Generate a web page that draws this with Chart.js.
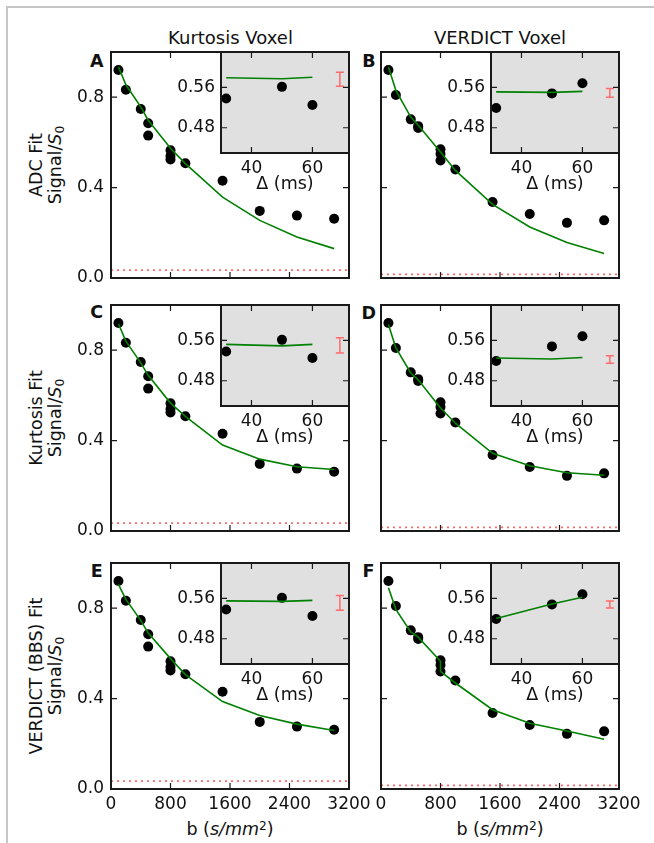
<!DOCTYPE html>
<html>
<head>
<meta charset="utf-8">
<title>Signal decay fits</title>
<script src="https://cdn.jsdelivr.net/npm/chart.js@4.4.1/dist/chart.umd.min.js"></script>
<style>
  body { margin: 0; background: #fff; }
  #fig { position: relative; width: 654px; height: 843px; overflow: hidden; font-family: "DejaVu Sans", sans-serif; color: #111; }
  #fig canvas { position: absolute; }
  .border { position: absolute; left: 6px; top: 6px; width: 700px; height: 900px; border-top: 2px solid #c6c6c6; border-left: 2px solid #c6c6c6; }
  .lbl { position: absolute; white-space: nowrap; transform: translate(-50%, -50%); font-size: 17.5px; line-height: 1; }
  .title { font-size: 18px; }
  .letter { font-weight: bold; }
  .ylab { transform: translate(-50%, -50%) rotate(-90deg); text-align: center; line-height: 18.5px; }
  .m { font-style: italic; }
  .sub { font-size: 0.7em; position: relative; top: 0.25em; }
  .sup { font-size: 0.7em; position: relative; top: -0.45em; }
</style>
</head>
<body>
<div id="fig">
  <div class="border"></div>

  <div class="lbl title" style="left:230.5px; top:37.5px">Kurtosis Voxel</div>
  <div class="lbl title" style="left:500px; top:37.5px">VERDICT Voxel</div>

  <div class="lbl letter" style="left:96.7px; top:62.3px">A</div>
  <div class="lbl letter" style="left:368.8px; top:62.3px">B</div>
  <div class="lbl letter" style="left:96.7px; top:312.5px">C</div>
  <div class="lbl letter" style="left:368.8px; top:313.5px">D</div>
  <div class="lbl letter" style="left:96.7px; top:572px">E</div>
  <div class="lbl letter" style="left:368.5px; top:571.5px">F</div>

  <div class="lbl ylab" style="left:46.4px; top:165px">ADC Fit<br>Signal/<span class="m">S</span><span class="sub">0</span></div>
  <div class="lbl ylab" style="left:46.4px; top:418px">Kurtosis Fit<br>Signal/<span class="m">S</span><span class="sub">0</span></div>
  <div class="lbl ylab" style="left:46.4px; top:676px">VERDICT (BBS) Fit<br>Signal/<span class="m">S</span><span class="sub">0</span></div>

  <div class="lbl" style="left:230px; top:830px">b (<span class="m">s/mm</span><span class="sup">2</span>)</div>
  <div class="lbl" style="left:500px; top:830px">b (<span class="m">s/mm</span><span class="sup">2</span>)</div>
</div>

<script>
// b-values (s/mm^2), in the order they are plotted
const bValues = [100, 200, 400, 500, 500, 800, 800, 800, 1000, 1500, 2000, 2500, 3000];

// measured signal of each voxel
const kurtosisVoxel = [0.92, 0.833, 0.748, 0.685, 0.63, 0.565, 0.54, 0.524, 0.508, 0.43, 0.297, 0.276, 0.262];
const verdictVoxel = [0.92, 0.81, 0.702, 0.672, 0.664, 0.57, 0.549, 0.52, 0.48, 0.336, 0.283, 0.244, 0.255];

// model fits at the same b-values
const adcFitK = [0.935, 0.855, 0.757, 0.698, 0.698, 0.574, 0.574, 0.574, 0.506, 0.358, 0.255, 0.181, 0.130];
const adcFitV = [0.934, 0.83, 0.712, 0.676, 0.676, 0.558, 0.558, 0.558, 0.476, 0.326, 0.226, 0.157, 0.108];
const kurtFitK = [0.917, 0.84, 0.744, 0.689, 0.689, 0.566, 0.566, 0.566, 0.507, 0.380, 0.318, 0.284, 0.272];
const kurtFitV = [0.914, 0.81, 0.699, 0.669, 0.669, 0.544, 0.544, 0.544, 0.477, 0.344, 0.289, 0.258, 0.247];
const verdictFitK = [0.905, 0.839, 0.746, 0.69, 0.69, 0.577, 0.577, 0.577, 0.506, 0.387, 0.325, 0.287, 0.259];
const verdictFitV = [0.89, 0.795, 0.695, 0.672, 0.672, 0.565, 0.548, 0.52, 0.469, 0.351, 0.291, 0.257, 0.22];

// noise floor (dotted red line)
const noiseK = 0.035;
const noiseV = 0.016;

// insets: signal against diffusion time
const deltaValues = [31.7, 50, 60];
const insetK = [0.538, 0.561, 0.525];
const insetV = [0.519, 0.548, 0.568];
const insetAdcK = [0.579, 0.577, 0.580];
const insetAdcV = [0.551, 0.550, 0.552];
const insetKurtK = [0.552, 0.549, 0.552];
const insetKurtV = [0.525, 0.523, 0.526];
const insetVerdictK = [0.555, 0.554, 0.556];
const insetVerdictV = [0.520, 0.549, 0.562];

// error bars in the insets: [centre, half length], all at the same delta
const errDelta = 69;
const errA = [0.576, 0.014];
const errB = [0.549, 0.0085];
const errC = [0.55, 0.015];
const errD = [0.522, 0.0075];
const errE = [0.551, 0.0145];
const errF = [0.548, 0.007];

// axes
const bRange = [0, 3200];
const sigRange = [0, 1.0];
const bTicks = [0, 800, 1600, 2400, 3200];
const sigTicks = [0, 0.4, 0.8];
const deltaRange = [30, 72];
const insetRange = [0.43, 0.63];
const deltaTicks = [40, 60];
const insetTicks = [0.48, 0.56];

// layout
const colLeft = [111, 381];
const rowTop = [52, 305, 563];
const mainW = 238, mainH = 226;
const insetDx = 110, insetH = 101;
const PAD = { l: 60, t: 20, r: 34, b: 40 };
const IPAD = { l: 52, t: 20, r: 34, b: 42 };

const tickFont = { family: 'DejaVu Sans', size: 17 };
const titleFont = { family: 'DejaVu Sans', size: 17.5 };
const green = '#008000';
const red = '#ff6b6b';

const panels = [
    { col: 0, row: 0, data: kurtosisVoxel, fit: adcFitK, noise: noiseK, inset: insetK, insetFit: insetAdcK, err: errA },
    { col: 1, row: 0, data: verdictVoxel, fit: adcFitV, noise: noiseV, inset: insetV, insetFit: insetAdcV, err: errB },
    { col: 0, row: 1, data: kurtosisVoxel, fit: kurtFitK, noise: noiseK, inset: insetK, insetFit: insetKurtK, err: errC },
    { col: 1, row: 1, data: verdictVoxel, fit: kurtFitV, noise: noiseV, inset: insetV, insetFit: insetKurtV, err: errD },
    { col: 0, row: 2, data: kurtosisVoxel, fit: verdictFitK, noise: noiseK, inset: insetK, insetFit: insetVerdictK, err: errE },
    { col: 1, row: 2, data: verdictVoxel, fit: verdictFitV, noise: noiseV, inset: insetV, insetFit: insetVerdictV, err: errF }
];

// frame, inward ticks on all sides, inset background and error bar
const axesBox = {
    id: 'axesBox',
    beforeDatasetsDraw(chart, args, opts) {
        if (!opts.fill) return;
        const { ctx, chartArea: a } = chart;
        ctx.save();
        ctx.fillStyle = opts.fill;
        ctx.fillRect(a.left, a.top, a.right - a.left, a.bottom - a.top);
        ctx.restore();
    },
    afterDatasetsDraw(chart, args, opts) {
        const { ctx, chartArea: a } = chart;
        const x = chart.scales.x, y = chart.scales.y;
        ctx.save();
        if (opts.err) {
            const px = x.getPixelForValue(errDelta);
            const y0 = y.getPixelForValue(opts.err[0] - opts.err[1]);
            const y1 = y.getPixelForValue(opts.err[0] + opts.err[1]);
            ctx.strokeStyle = red;
            ctx.lineWidth = 1.5;
            ctx.beginPath();
            ctx.moveTo(px, y0); ctx.lineTo(px, y1);
            ctx.moveTo(px - 4, y0); ctx.lineTo(px + 4, y0);
            ctx.moveTo(px - 4, y1); ctx.lineTo(px + 4, y1);
            ctx.stroke();
        }
        ctx.strokeStyle = '#1a1a1a';
        ctx.lineWidth = 1.2;
        ctx.beginPath();
        x.ticks.forEach(t => {
            const p = x.getPixelForValue(t.value);
            ctx.moveTo(p, a.bottom); ctx.lineTo(p, a.bottom - 6);
            ctx.moveTo(p, a.top); ctx.lineTo(p, a.top + 6);
        });
        y.ticks.forEach(t => {
            const p = y.getPixelForValue(t.value);
            ctx.moveTo(a.left, p); ctx.lineTo(a.left + 6, p);
            ctx.moveTo(a.right, p); ctx.lineTo(a.right - 6, p);
        });
        ctx.stroke();
        ctx.lineWidth = 2;
        ctx.strokeRect(a.left, a.top, a.right - a.left, a.bottom - a.top);
        ctx.restore();
    }
};

const fig = document.getElementById('fig');

function addCanvas(left, top, w, h) {
    const cv = document.createElement('canvas');
    cv.width = w;
    cv.height = h;
    cv.style.width = w + 'px';
    cv.style.height = h + 'px';
    cv.style.left = left + 'px';
    cv.style.top = top + 'px';
    fig.appendChild(cv);
    return cv;
}

// put the chart area exactly where it belongs
function align(chart, cv, left, top) {
    const a = chart.chartArea;
    cv.style.left = (left - a.left) + 'px';
    cv.style.top = (top - a.top) + 'px';
}

function linearAxis(range, ticks, opts) {
    return {
        type: 'linear',
        min: range[0],
        max: range[1],
        grid: { display: false, drawTicks: false },
        border: { display: false },
        afterBuildTicks: s => { s.ticks = ticks.map(v => ({ value: v })); },
        afterFit: opts.fit,
        title: opts.title || { display: false },
        ticks: {
            display: opts.show,
            padding: opts.padding,
            font: tickFont,
            color: '#111',
            maxRotation: 0,
            autoSkip: false,
            callback: opts.format
        }
    };
}

function baseOptions(pad, box) {
    return {
        responsive: false,
        animation: false,
        events: [],
        devicePixelRatio: 1,
        layout: { padding: { left: 0, top: pad.t, right: pad.r, bottom: 0 } },
        plugins: { legend: { display: false }, tooltip: { enabled: false }, axesBox: box }
    };
}

function mainChart(p) {
    const left = colLeft[p.col], top = rowTop[p.row];
    const cv = addCanvas(left - PAD.l, top - PAD.t, PAD.l + mainW + PAD.r, PAD.t + mainH + PAD.b);
    const options = baseOptions(PAD, {});
    options.scales = {
        x: linearAxis(bRange, bTicks, {
            show: p.row === 2, padding: 5, format: v => String(v),
            fit: s => { s.height = PAD.b; }
        }),
        y: linearAxis(sigRange, sigTicks, {
            show: p.col === 0, padding: 7, format: v => v.toFixed(1),
            fit: s => { s.width = PAD.l; }
        })
    };
    const chart = new Chart(cv, {
        type: 'scatter',
        data: {
            datasets: [
                { data: bValues.map((b, i) => ({ x: b, y: p.fit[i] })), showLine: true, borderColor: green, borderWidth: 1.6, pointRadius: 0, order: 0 },
                { data: bValues.map((b, i) => ({ x: b, y: p.data[i] })), backgroundColor: '#000', borderWidth: 0, pointRadius: 5, order: 1 },
                { data: bRange.map(b => ({ x: b, y: p.noise })), showLine: true, borderColor: red, borderWidth: 1.6, borderDash: [2, 4], pointRadius: 0, order: 2 }
            ]
        },
        options: options,
        plugins: [axesBox]
    });
    align(chart, cv, left, top);
}

function insetChart(p) {
    const left = colLeft[p.col] + insetDx, top = rowTop[p.row];
    const w = mainW - insetDx;
    const cv = addCanvas(left - IPAD.l, top - IPAD.t, IPAD.l + w + IPAD.r, IPAD.t + insetH + IPAD.b);
    const options = baseOptions(IPAD, { fill: '#e0e0e0', err: p.err });
    options.scales = {
        x: linearAxis(deltaRange, deltaTicks, {
            show: true, padding: 5, format: v => String(v),
            fit: s => { s.height = IPAD.b; },
            title: { display: true, text: 'Δ (ms)', font: titleFont, color: '#111', padding: 0 }
        }),
        y: linearAxis(insetRange, insetTicks, {
            show: true, padding: 6, format: v => v.toFixed(2),
            fit: s => { s.width = IPAD.l; }
        })
    };
    const chart = new Chart(cv, {
        type: 'scatter',
        data: {
            datasets: [
                { data: deltaValues.map((d, i) => ({ x: d, y: p.insetFit[i] })), showLine: true, borderColor: green, borderWidth: 1.6, pointRadius: 0, order: 0 },
                { data: deltaValues.map((d, i) => ({ x: d, y: p.inset[i] })), backgroundColor: '#000', borderWidth: 0, pointRadius: 5, order: 1 }
            ]
        },
        options: options,
        plugins: [axesBox]
    });
    align(chart, cv, left, top);
}

panels.forEach(mainChart);
panels.forEach(insetChart);
</script>
</body>
</html>
